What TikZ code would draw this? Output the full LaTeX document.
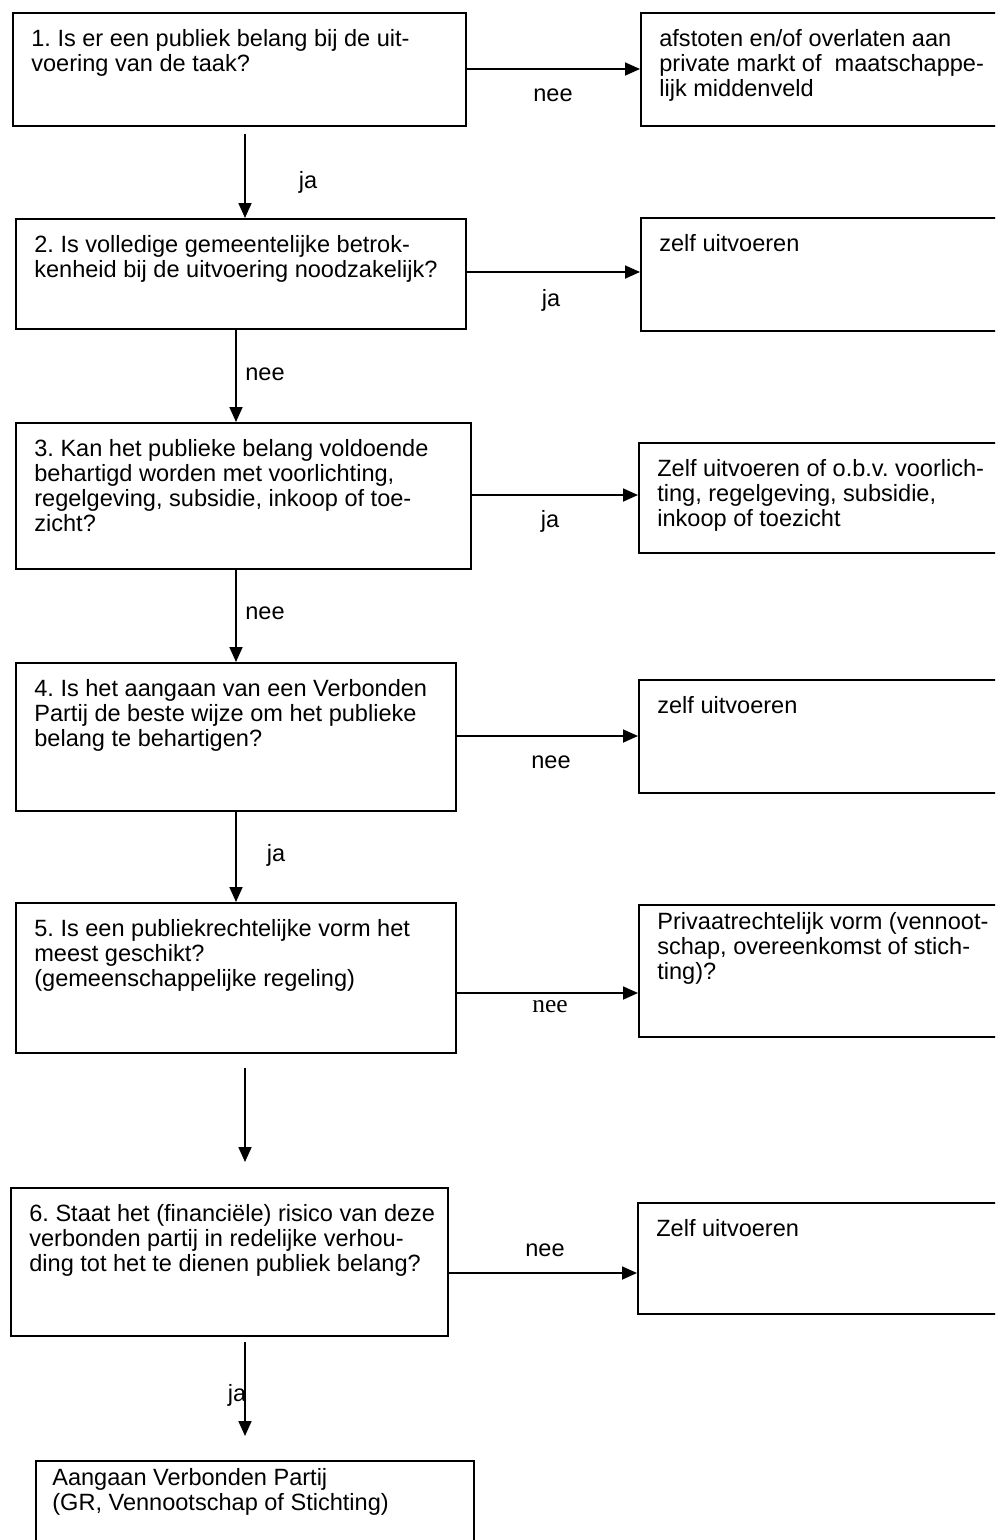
\documentclass[tikz,border=0pt]{standalone}
\usepackage{fontspec}
\setmainfont{Liberation Sans}
\newfontfamily\neeserif{Liberation Serif}
\usetikzlibrary{positioning,arrows.meta}
\newlength\px
\setlength\px{0.2mm}
\frenchspacing

\begin{document}
\begin{tikzpicture}[x=0.2mm, y=-0.2mm, every node/.style={font=\fontsize{13.4}{14.2}\selectfont},
    qbox/.style={draw, line width=1.1pt, anchor=north west, inner sep=0pt},
    qtext/.style={anchor=north west, align=left, inner sep=0pt, xshift=19\px, yshift=-17\px},
    arr/.style={-{Triangle[length=3mm,width=2.6mm]}, line width=1pt},
    lbl/.style={inner sep=1pt}]
  \useasboundingbox (0,0) rectangle (995,1540);
  \clip (0,0) rectangle (995,1540);

  % vragen
  \node[qbox, minimum width=453\px, minimum height=113\px,
    label={[qtext]north west:{\strut 1. Is er een publiek belang bij de uit-\\voering van de taak?}}] (q1) at (12,12) {};
  \node[qbox, minimum width=450\px, minimum height=110\px,
    label={[qtext]north west:{\strut 2. Is volledige gemeentelijke betrok-\\kenheid bij de uitvoering noodzakelijk?}}] (q2) at (15,218) {};
  \node[qbox, minimum width=455\px, minimum height=146\px,
    label={[qtext]north west:{\strut 3. Kan het publieke belang voldoende\\behartigd worden met voorlichting,\\regelgeving, subsidie, inkoop of toe-\\zicht?}}] (q3) at (15,422) {};
  \node[qbox, minimum width=440\px, minimum height=148\px,
    label={[qtext]north west:{\strut 4. Is het aangaan van een Verbonden\\Partij de beste wijze om het publieke\\belang te behartigen?}}] (q4) at (15,662) {};
  \node[qbox, minimum width=440\px, minimum height=150\px,
    label={[qtext]north west:{\strut 5. Is een publiekrechtelijke vorm het\\meest geschikt?\\(gemeenschappelijke regeling)}}] (q5) at (15,902) {};
  \node[qbox, minimum width=437\px, minimum height=148\px,
    label={[qtext]north west:{\strut 6. Staat het (financiële) risico van deze\\verbonden partij in redelijke verhou-\\ding tot het te dienen publiek belang?}}] (q6) at (10,1187) {};
  \node[qbox, minimum width=438\px, minimum height=120\px,
    label={[qtext, xshift=-2\px, yshift=9\px]north west:{\strut Aangaan Verbonden Partij\\(GR, Vennootschap of Stichting)}}] (q7) at (35,1460) {};

  % uitkomsten rechts
  \node[qbox, minimum width=420\px, minimum height=113\px,
    label={[qtext]north west:{\strut afstoten en/of overlaten aan\\private markt of~ maatschappe-\\lijk middenveld}}] (a1) at (640,12) {};
  \node[qbox, minimum width=420\px, minimum height=113\px,
    label={[qtext]north west:{\strut zelf uitvoeren}}] (a2) at (640,217) {};
  \node[qbox, minimum width=420\px, minimum height=110\px,
    label={[qtext]north west:{\strut Zelf uitvoeren of o.b.v. voorlich-\\ting, regelgeving, subsidie,\\inkoop of toezicht}}] (a3) at (638,442) {};
  \node[qbox, minimum width=420\px, minimum height=113\px,
    label={[qtext]north west:{\strut zelf uitvoeren}}] (a4) at (638,679) {};
  \node[qbox, minimum width=420\px, minimum height=132\px,
    label={[qtext, yshift=9\px]north west:{\strut Privaatrechtelijk vorm (vennoot-\\schap, overeenkomst of stich-\\ting)?}}] (a5) at (638,904) {};
  \node[qbox, minimum width=420\px, minimum height=111\px,
    label={[qtext]north west:{\strut Zelf uitvoeren}}] (a6) at (637,1202) {};

  % hulppunten voor de pijlen
  \coordinate (colA) at (245,0);
  \coordinate (colB) at (236,0);
  \coordinate (h1) at (0,69);
  \coordinate (h2) at (0,272);
  \coordinate (h3) at (0,495);
  \coordinate (h4) at (0,736);
  \coordinate (h5) at (0,993);
  \coordinate (h6) at (0,1273);
  \coordinate (e5) at (245,1162);
  \coordinate (e6) at (245,1436);

  % pijlen omlaag
  \draw[arr] (colA |- q1.south) ++(0,7) -- (colA |- q2.north);
  \draw[arr] (colB |- q2.south) -- (colB |- q3.north);
  \draw[arr] (colB |- q3.south) -- (colB |- q4.north);
  \draw[arr] (colB |- q4.south) -- (colB |- q5.north);
  \draw[arr] (colA |- q5.south) ++(0,14) -- (e5);
  \draw[arr] (colA |- q6.south) ++(0,5) -- (e6);
  % pijlen naar rechts
  \foreach \i in {1,...,6}
    \draw[arr] (q\i.east |- h\i) -- (a\i.west |- h\i);

  % labels
  \node[lbl] (ja1) at (308,182) {ja};
  \node[lbl] (nee2) at (265,374) {nee};
  \node[lbl] (nee3) at (265,613) {nee};
  \node[lbl] (ja4) at (276,855) {ja};
  \node[lbl] (ja6) at (237,1395) {ja};
  \node[lbl] (nee1) at (553,95) {nee};
  \node[lbl] (ja2) at (551,300) {ja};
  \node[lbl] (ja3) at (550,521) {ja};
  \node[lbl] (nee4) at (551,762) {nee};
  \node[lbl, font=\neeserif\fontsize{14.5}{16}\selectfont] (nee5) at (550,1007) {nee};
  \node[lbl] (nee6) at (545,1250) {nee};
\end{tikzpicture}
\end{document}
